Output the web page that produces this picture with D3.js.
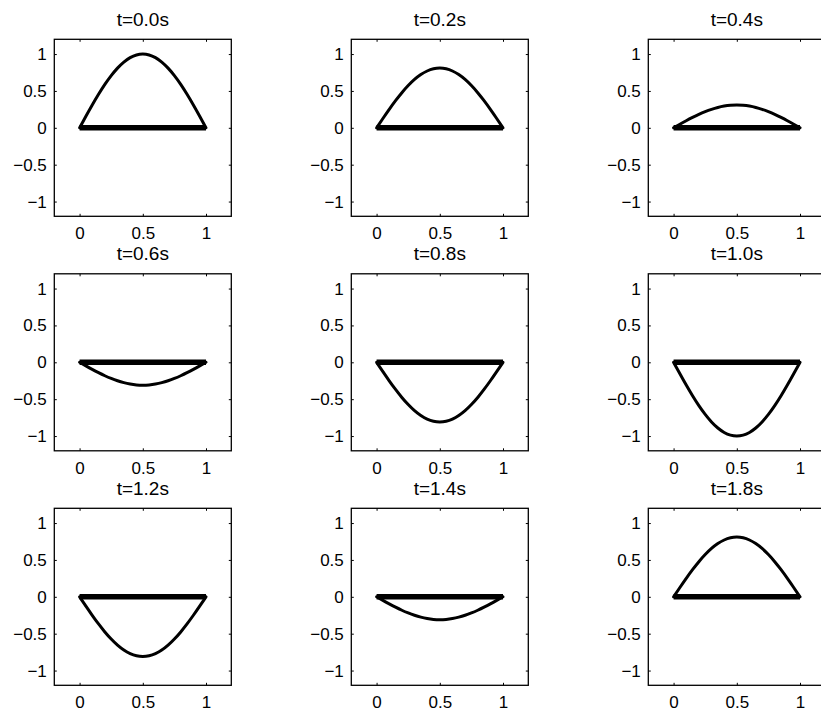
<!DOCTYPE html>
<html>
<head>
<meta charset="utf-8">
<script src="https://cdn.jsdelivr.net/npm/d3@7"></script>
<style>
  html, body { margin: 0; padding: 0; background: #fff; overflow: hidden; }
  svg { display: block; font-family: "Liberation Sans", Arial, Helvetica, sans-serif; }
</style>
</head>
<body>
<svg width="821" height="711"></svg>
<script>
// panel titles (time of each snapshot)
const titles = ["t=0.0s", "t=0.2s", "t=0.4s", "t=0.6s", "t=0.8s", "t=1.0s", "t=1.2s", "t=1.4s", "t=1.8s"];

// peak displacement of the string in each snapshot
const amplitudes = [1.0, 0.81, 0.31, -0.31, -0.81, -1.0, -0.81, -0.31, 0.81];

const xs = [0, 0.05, 0.1, 0.15, 0.2, 0.25, 0.3, 0.35, 0.4, 0.45, 0.5,
            0.55, 0.6, 0.65, 0.7, 0.75, 0.8, 0.85, 0.9, 0.95, 1];
const shape = [0, 0.156, 0.309, 0.454, 0.588, 0.707, 0.809, 0.891, 0.951, 0.988, 1,
               0.988, 0.951, 0.891, 0.809, 0.707, 0.588, 0.454, 0.309, 0.156, 0];

// equilibrium line (rest position)
const restLine = [[0, 0], [1, 0]];

const xTicks = [0, 0.5, 1];
const xTickLabels = ["0", "0.5", "1"];
const yTicks = [-1, -0.5, 0, 0.5, 1];
const yTickLabels = ["\u22121", "\u22120.5", "0", "0.5", "1"];

const svg = d3.select("svg");

// layout of the 3x3 grid
const boxW = 177, boxH = 177;
const colLeft = [54.3, 351.3, 648.3];
const rowTop = [39.3, 273.8, 508.3];

const x = d3.scaleLinear().domain([-0.2, 1.2]).range([0, boxW]);
const y = d3.scaleLinear().domain([-1.2, 1.2]).range([boxH, 0]);

const line = d3.line()
    .x(d => x(d[0]))
    .y(d => y(d[1]))
    .curve(d3.curveNatural);

titles.forEach((title, i) => {
    const col = i % 3, row = Math.floor(i / 3);
    const g = svg.append("g")
        .attr("transform", `translate(${colLeft[col]},${rowTop[row]})`);

    // clip the data to the axes area
    const clipId = "clip" + i;
    g.append("clipPath").attr("id", clipId)
      .append("rect").attr("width", boxW).attr("height", boxH);

    const plot = g.append("g").attr("clip-path", `url(#${clipId})`);

    // rest position (thick)
    plot.append("path")
        .datum(restLine)
        .attr("d", d3.line().x(d => x(d[0])).y(d => y(d[1])))
        .attr("fill", "none")
        .attr("stroke", "#000")
        .attr("stroke-width", 5.5);

    // string displacement
    const pts = xs.map((xv, k) => [xv, amplitudes[i] * shape[k]]);
    plot.append("path")
        .datum(pts)
        .attr("d", line)
        .attr("fill", "none")
        .attr("stroke", "#000")
        .attr("stroke-width", 3)
        .attr("stroke-linejoin", "round")
        .attr("stroke-linecap", "round");

    // axes: ticks pointing inward on all four sides
    const tickLen = 2.5;
    g.append("g")
        .attr("transform", `translate(0,${boxH})`)
        .call(d3.axisBottom(x).tickValues(xTicks).tickSizeInner(-tickLen).tickSizeOuter(0)
              .tickPadding(11).tickFormat((d, k) => xTickLabels[k]))
        .call(a => a.select(".domain").remove());
    g.append("g")
        .call(d3.axisTop(x).tickValues(xTicks).tickSizeInner(-tickLen).tickSizeOuter(0).tickFormat(""))
        .call(a => a.select(".domain").remove());
    g.append("g")
        .call(d3.axisLeft(y).tickValues(yTicks).tickSizeInner(-tickLen).tickSizeOuter(0)
              .tickPadding(7.5).tickFormat((d, k) => yTickLabels[k]))
        .call(a => a.select(".domain").remove());
    g.append("g")
        .attr("transform", `translate(${boxW},0)`)
        .call(d3.axisRight(y).tickValues(yTicks).tickSizeInner(-tickLen).tickSizeOuter(0).tickFormat(""))
        .call(a => a.select(".domain").remove());

    g.selectAll(".tick text")
        .attr("font-size", 17)
        .attr("font-family", "Liberation Sans, Arial, sans-serif")
        .attr("fill", "#000");
    g.selectAll(".tick line").attr("stroke", "#000");

    // axes box
    g.append("rect")
        .attr("width", boxW)
        .attr("height", boxH)
        .attr("fill", "none")
        .attr("stroke", "#000")
        .attr("stroke-width", 1.3);

    g.append("text")
        .attr("x", boxW / 2)
        .attr("y", -13.5)
        .attr("text-anchor", "middle")
        .attr("font-size", 19)
        .attr("fill", "#000")
        .text(title);
});
</script>
</body>
</html>
